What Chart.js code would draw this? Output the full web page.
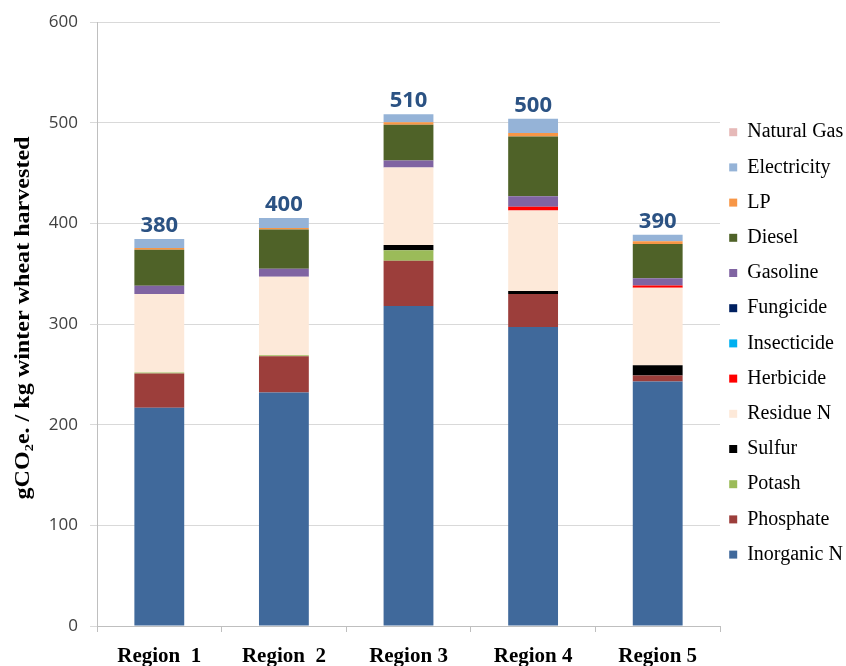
<!DOCTYPE html>
<html>
<head>
<meta charset="utf-8">
<script src="https://cdn.jsdelivr.net/npm/chart.js@4"></script>
<style>
  html, body { margin: 0; padding: 0; background: #fff; }
  #wrap { width: 846px; height: 666px; }
</style>
</head>
<body>
<div id="wrap"><canvas id="chart"></canvas></div>
<script>
// categories and values (gCO2e / kg)
const regions = ['Region  1', 'Region  2', 'Region 3', 'Region 4', 'Region 5'];
const totalLabels = ['380', '400', '510', '500', '390'];
const yTitle = 'gCO₂e. / kg winter wheat harvested';

const inorganicN = [217, 232, 318, 297, 243];
const phosphate  = [34, 36, 45, 33, 6];
const potash     = [1, 1, 10.5, 0, 0];
const sulfur     = [0, 0, 5, 3, 10];
const residueN   = [78, 78, 77, 80, 77];
const herbicide  = [0, 0, 0, 3.5, 2.3];
const insecticide = [0, 0, 0, 0, 0];
const fungicide  = [0, 0, 0, 0, 0];
const gasoline   = [8, 8, 7, 10.5, 7.3];
const diesel     = [36, 39, 35.5, 59.5, 34];
const lp         = [1.5, 1.5, 2.5, 3.5, 2.7];
const electricity = [9, 10, 8, 14, 6.6];
const naturalGas = [0, 0, 0, 0, 0];

const series = [
    ['Inorganic N', inorganicN, '#40699b'],
    ['Phosphate', phosphate, '#9c3e3b'],
    ['Potash', potash, '#9bbb59'],
    ['Sulfur', sulfur, '#000000'],
    ['Residue N', residueN, '#fde9d9'],
    ['Herbicide', herbicide, '#ff0000'],
    ['Insecticide', insecticide, '#00b0f0'],
    ['Fungicide', fungicide, '#002060'],
    ['Gasoline', gasoline, '#8064a2'],
    ['Diesel', diesel, '#4f6228'],
    ['LP', lp, '#f79646'],
    ['Electricity', electricity, '#95b3d7'],
    ['Natural Gas', naturalGas, '#e6b9b8']
];

// totals above each stack
const totalsPlugin = {
    id: 'totals',
    afterDatasetsDraw(chart) {
        const ctx = chart.ctx;
        const yScale = chart.scales.y;
        const meta = chart.getDatasetMeta(0);
        ctx.save();
        ctx.font = 'bold 22px "Open Sans"';
        ctx.fillStyle = '#2b5283';
        ctx.textAlign = 'center';
        ctx.textBaseline = 'alphabetic';
        regions.forEach((r, i) => {
            let sum = 0;
            chart.data.datasets.forEach(ds => { sum += ds.data[i]; });
            const y = yScale.getPixelForValue(sum);
            ctx.fillText(totalLabels[i], meta.data[i].x, y - 7);
        });
        ctx.restore();
    }
};

// y title, stretched a bit along its length like the original
const yTitlePlugin = {
    id: 'yTitle',
    afterDraw(chart) {
        const ctx = chart.ctx;
        ctx.save();
        ctx.font = 'bold 20px "Liberation Serif"';
        const w = ctx.measureText(yTitle).width;
        ctx.translate(24, 318);
        ctx.rotate(-Math.PI / 2);
        ctx.scale(363 / w, 1);
        ctx.fillStyle = '#000';
        ctx.textAlign = 'center';
        ctx.textBaseline = 'middle';
        ctx.fillText(yTitle, 0, 0);
        ctx.restore();
    }
};

// fixed legend width and position
const legendPlace = {
    id: 'legendPlace',
    beforeInit(chart) {
        const fit = chart.legend.fit;
        chart.legend.fit = function () {
            fit.bind(chart.legend)();
            this.width = 126;
        };
    },
    afterLayout(chart) {
        const lg = chart.legend;
        lg.left = 714;
        lg.top = 107;
    }
};

new Chart(document.getElementById('chart').getContext('2d'), {
    type: 'bar',
    data: {
        labels: regions,
        datasets: series.map(s => ({
            label: s[0],
            data: s[1],
            backgroundColor: s[2],
            borderWidth: 0,
            barPercentage: 0.4,
            categoryPercentage: 1.0
        }))
    },
    options: {
        responsive: true,
        maintainAspectRatio: false,
        animation: false,
        layout: { padding: { top: 12, bottom: 0 } },
        plugins: {
            legend: {
                position: 'right',
                align: 'start',
                reverse: true,
                labels: {
                    boxWidth: 8,
                    boxHeight: 8,
                    padding: 15.2,
                    color: '#000',
                    font: { family: '"Liberation Serif", serif', size: 20 }
                }
            },
            tooltip: { enabled: false }
        },
        scales: {
            x: {
                stacked: true,
                grid: { display: true, drawOnChartArea: false, color: '#bfbfbf', tickLength: 6 },
                border: { color: '#bfbfbf' },
                ticks: {
                    color: '#000',
                    font: { family: '"Liberation Serif", serif', size: 21, weight: 'bold' },
                    padding: 12
                },
                afterFit(scale) { scale.height = 40; }
            },
            y: {
                stacked: true,
                min: 0,
                max: 600,
                ticks: {
                    stepSize: 100,
                    color: '#404040',
                    font: { family: '"Open Sans"', size: 17 },
                    padding: 12
                },
                grid: { color: '#d9d9d9', tickLength: 7 },
                border: { color: '#bfbfbf' },
                afterFit(scale) { scale.width = 97; }
            }
        }
    },
    plugins: [totalsPlugin, yTitlePlugin, legendPlace]
});
</script>
</body>
</html>
